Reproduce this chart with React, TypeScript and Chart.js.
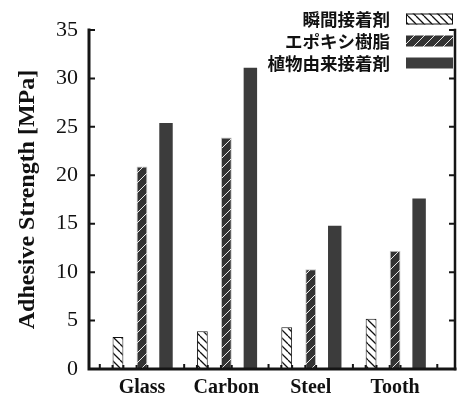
import React, { useEffect, useRef } from 'react';
import { Chart, registerables } from 'chart.js';

Chart.register(...registerables);

const categories = ['Glass', 'Carbon', 'Steel', 'Tooth'];
const seriesNames = ['瞬間接着剤', 'エポキシ樹脂', '植物由来接着剤'];
const instantValues = [3.3, 3.9, 4.3, 5.2];
const epoxyValues = [20.9, 23.9, 10.3, 12.2];
const plantValues = [25.4, 31.1, 14.8, 17.6];
const yTickValues = [0, 5, 10, 15, 20, 25, 30, 35];
const yTitle = 'Adhesive Strength [MPa]';

function makeHatch(bg: string, fg: string, dir: 'back' | 'fwd', size: number, lw: number) {
  const c = document.createElement('canvas');
  c.width = size;
  c.height = size;
  const g = c.getContext('2d')!;
  g.fillStyle = bg;
  g.fillRect(0, 0, size, size);
  g.strokeStyle = fg;
  g.lineWidth = lw;
  g.beginPath();
  for (let k = -1; k <= 1; k++) {
    if (dir === 'back') {
      g.moveTo(k * size, 0);
      g.lineTo(k * size + size, size);
    } else {
      g.moveTo(k * size, size);
      g.lineTo(k * size + size, 0);
    }
  }
  g.stroke();
  return g.createPattern(c, 'repeat')!;
}

export default function App() {
  const ref = useRef<HTMLCanvasElement | null>(null);

  useEffect(() => {
    const canvas = ref.current;
    if (!canvas) return;
    const whiteHatch = makeHatch('#ffffff', '#111111', 'back', 8, 1.3);
    const darkHatch = makeHatch('#333333', '#e8e8e8', 'fwd', 10, 1);
    const plantFill = '#3c3c3c';

    const fills = [whiteHatch, darkHatch, plantFill];
    const borders = ['#111111', '#c4c4c4', '#3c3c3c'];
    const borderWidths = [1, 1, 0];

    const framePlugin = {
      id: 'frame',
      afterDatasetsDraw(chart: any) {
        const { ctx, chartArea: a, scales } = chart;
        const ys = scales.y;
        const xs = scales.x;
        const topY = ys.getPixelForValue(yTickValues[yTickValues.length - 1]);
        ctx.save();
        ctx.strokeStyle = '#151515';
        ctx.lineCap = 'square';
        ctx.lineWidth = 3;
        ctx.beginPath();
        ctx.moveTo(a.left, topY);
        ctx.lineTo(a.left, a.bottom);
        ctx.lineTo(a.right, a.bottom);
        ctx.stroke();
        ctx.lineWidth = 2.5;
        ctx.beginPath();
        ctx.moveTo(a.right, topY);
        ctx.lineTo(a.right, a.bottom);
        ctx.stroke();
        ctx.lineCap = 'butt';
        ctx.lineWidth = 2;
        ctx.beginPath();
        yTickValues.forEach((v) => {
          const py = ys.getPixelForValue(v);
          ctx.moveTo(a.left, py);
          ctx.lineTo(a.left + 6, py);
          ctx.moveTo(a.right, py);
          ctx.lineTo(a.right - 6, py);
        });
        for (let i = 0; i <= categories.length; i++) {
          const px = xs.getPixelForValue(i + 0.5);
          ctx.moveTo(px, a.bottom);
          ctx.lineTo(px, a.bottom - 5);
        }
        [0, 1].forEach((di) => {
          const meta = chart.getDatasetMeta(di);
          meta.data.forEach((el: any) => {
            const w = el.width;
            ctx.moveTo(el.x - w / 2, a.bottom);
            ctx.lineTo(el.x - w / 2, a.bottom - 4);
            ctx.moveTo(el.x + w / 2, a.bottom);
            ctx.lineTo(el.x + w / 2, a.bottom - 4);
          });
        });
        ctx.stroke();
        ctx.restore();
      },
      afterDraw(chart: any) {
        const { ctx, chartArea: a } = chart;
        ctx.save();
        const boxRight = a.right - 2;
        const boxW = 47;
        const textRight = boxRight - boxW - 16;
        const rowH = 22;
        const firstY = 19;
        ctx.font = 'bold 17.5px "Noto Sans CJK JP"';
        ctx.textAlign = 'right';
        ctx.textBaseline = 'middle';
        seriesNames.forEach((name, i) => {
          const cy = firstY + i * rowH;
          ctx.fillStyle = '#111';
          ctx.fillText(name, textRight, cy);
          ctx.fillStyle = fills[i] as any;
          ctx.fillRect(boxRight - boxW, cy - 5.5, boxW, 11);
          if (i === 0) {
            ctx.strokeStyle = '#111';
            ctx.lineWidth = 1;
            ctx.strokeRect(boxRight - boxW + 0.5, cy - 5.5 + 0.5, boxW - 1, 11 - 1);
          }
        });
        ctx.restore();
      },
    };

    const chart = new Chart(canvas, {
      type: 'bar',
      data: {
        datasets: [instantValues, epoxyValues, plantValues].map((vals, i) => ({
          label: seriesNames[i],
          data: vals.map((v, j) => ({ x: j + 1, y: v })),
          backgroundColor: fills[i] as any,
          borderColor: borders[i],
          borderWidth: borderWidths[i],
          categoryPercentage: 0.854,
          barPercentage: i === 2 ? 0.56 : 0.45,
        })),
      },
      options: {
        responsive: false,
        animation: false,
        events: [],
        layout: { padding: { top: 30, right: 5, left: 0, bottom: 0 } },
        plugins: { legend: { display: false }, tooltip: { enabled: false } },
        scales: {
          x: {
            type: 'linear',
            offset: false,
            min: 0.372,
            max: 4.71,
            grid: { display: false, drawTicks: false, offset: false },
            border: { display: false },
            afterBuildTicks: (s: any) => {
              s.ticks = categories.map((_, i) => ({ value: i + 1 }));
            },
            afterFit: (s: any) => {
              s.height = 27;
            },
            ticks: {
              autoSkip: false,
              maxRotation: 0,
              padding: 7,
              color: '#111',
              font: { family: '"Liberation Serif"', size: 20, weight: 'bold' },
              callback: (v: any) => categories[Math.round(Number(v)) - 1] ?? '',
            },
          },
          y: {
            type: 'linear',
            min: 0,
            max: 35,
            grid: { display: false, drawTicks: false },
            border: { display: false },
            afterBuildTicks: (s: any) => {
              s.ticks = yTickValues.map((v) => ({ value: v }));
            },
            afterFit: (s: any) => {
              s.width = 89;
            },
            ticks: {
              padding: 11,
              color: '#111',
              font: { family: '"Liberation Serif"', size: 22 },
            },
            title: {
              display: true,
              text: yTitle,
              color: '#111',
              padding: { top: 13, bottom: 0 },
              font: { family: '"Liberation Serif"', size: 24, weight: 'bold' },
            },
          },
        },
      },
      plugins: [framePlugin],
    } as any);

    return () => chart.destroy();
  }, []);

  return (
    <div style={{ position: 'absolute', left: 0, top: 0, width: 460, height: 396, background: '#fff' }}>
      <canvas ref={ref} width={460} height={396} style={{ width: 460, height: 396, display: 'block' }} />
    </div>
  );
}
